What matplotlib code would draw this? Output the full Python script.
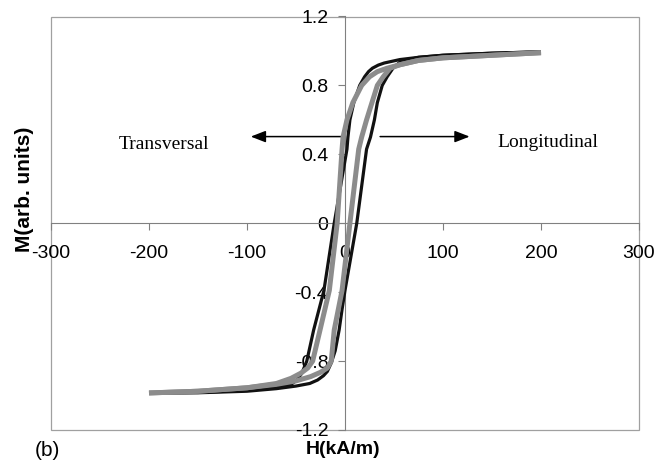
import matplotlib
matplotlib.use("Agg")
import matplotlib.pyplot as plt
from matplotlib.patches import Rectangle

plt.rcParams['axes.unicode_minus'] = False
plt.rcParams['font.family'] = ['Liberation Sans', 'DejaVu Sans']

# black loop, descending branch (left)
h_black_down = [-200, -150, -100, -70, -55, -49, -44, -39, -32, -21.5, -11, 2, 3, 5, 9, 15, 20, 24, 28, 34, 40, 56, 75, 100, 150, 200]
m_black_down = [-0.985, -0.982, -0.97, -0.955, -0.935, -0.91, -0.87, -0.80, -0.62, -0.39, 0.0, 0.43, 0.5, 0.6, 0.7, 0.8, 0.85, 0.88, 0.9, 0.918, 0.93, 0.95, 0.963, 0.975, 0.987, 0.995]

# black loop, ascending branch (right)
h_black_up = [-200, -150, -100, -70, -50, -36, -28, -22, -18, -14, -10, -6, -3, 0, 12, 22, 26, 30, 33, 38, 43, 49, 56, 75, 100, 150, 200]
m_black_up = [-0.985, -0.984, -0.975, -0.96, -0.945, -0.93, -0.91, -0.885, -0.86, -0.81, -0.74, -0.62, -0.5, -0.39, 0.0, 0.43, 0.5, 0.6, 0.7, 0.8, 0.85, 0.9, 0.935, 0.963, 0.975, 0.987, 0.995]

# grey loop, descending branch (left)
h_grey_down = [-200, -150, -100, -70, -55, -45, -38, -33, -25.5, -16, -8, -3, -2, 2, 8, 17, 25, 33, 43, 56, 75, 100, 150, 200]
m_grey_down = [-0.985, -0.975, -0.955, -0.93, -0.9, -0.87, -0.84, -0.8, -0.62, -0.39, 0.0, 0.43, 0.5, 0.6, 0.7, 0.8, 0.85, 0.88, 0.9, 0.92, 0.945, 0.96, 0.975, 0.99]

# grey loop, ascending branch (right)
h_grey_up = [-200, -150, -100, -70, -50, -35, -25, -18, -14, -11, -3, 5, 14, 17, 22, 27.5, 33, 39, 46, 56, 75, 100, 150, 200]
m_grey_up = [-0.985, -0.975, -0.955, -0.935, -0.915, -0.89, -0.865, -0.84, -0.8, -0.62, -0.39, 0.0, 0.43, 0.5, 0.6, 0.7, 0.8, 0.85, 0.9, 0.92, 0.945, 0.96, 0.975, 0.99]

x_ticks = [-300, -200, -100, 0, 100, 200, 300]
y_ticks = [-1.2, -0.8, -0.4, 0, 0.4, 0.8, 1.2]
y_tick_labels = ['-1.2', '-0.8', '-0.4', '0', '0.4', '0.8', '1.2']

fig = plt.figure(figsize=(6.69, 4.62), dpi=100)
ax = fig.add_axes([51 / 669, 32 / 462, 588 / 669, 413.5 / 462])

# curves
ax.plot(h_black_down, m_black_down, color='#111111', lw=2.3, solid_joinstyle='round', solid_capstyle='butt', zorder=3)
ax.plot(h_black_up, m_black_up, color='#111111', lw=2.3, solid_joinstyle='round', solid_capstyle='butt', zorder=3)
ax.plot(h_grey_down, m_grey_down, color='#8c8c8c', lw=3.6, solid_joinstyle='round', solid_capstyle='butt', zorder=4)
ax.plot(h_grey_up, m_grey_up, color='#8c8c8c', lw=3.6, solid_joinstyle='round', solid_capstyle='butt', zorder=4)

ax.set_xlim(-300, 300)
ax.set_ylim(-1.2, 1.2)

# axes through the origin
ax.spines['left'].set_position(('data', 0))
ax.spines['bottom'].set_position(('data', 0))
ax.spines['left'].set_color('#808080')
ax.spines['bottom'].set_color('#808080')
ax.spines['left'].set_linewidth(0.8)
ax.spines['bottom'].set_linewidth(0.8)
ax.spines['top'].set_visible(False)
ax.spines['right'].set_visible(False)
ax.add_patch(Rectangle((0, 0), 1, 1, transform=ax.transAxes, fill=False,
                       edgecolor='#a0a0a0', lw=0.9, zorder=1, clip_on=False))

ax.set_xticks(x_ticks)
ax.set_xticklabels([str(v) for v in x_ticks])
ax.set_yticks(y_ticks)
ax.set_yticklabels(y_tick_labels)
ax.tick_params(axis='x', direction='out', length=5, width=0.8, color='#808080', pad=11, labelsize=14)
ax.tick_params(axis='y', direction='out', length=5, width=0.8, color='#808080', pad=7, labelsize=14)

# arrows and labels
ax.annotate('', xy=(-99, 0.503), xytext=(-1, 0.503),
            arrowprops=dict(arrowstyle='-|>,head_length=0.9,head_width=0.35', color='black', lw=1.1), zorder=2)
ax.annotate('', xy=(130, 0.503), xytext=(33, 0.503),
            arrowprops=dict(arrowstyle='-|>,head_length=0.9,head_width=0.35', color='black', lw=1.1), zorder=2)
ax.text(-185, 0.456, 'Transversal', family='Liberation Serif', fontsize=14, ha='center', va='center')
ax.text(207, 0.468, 'Longitudinal', family='Liberation Serif', fontsize=14, ha='center', va='center')

fig.text(343 / 669, 1 - 450 / 462, 'H(kA/m)', fontsize=14, fontweight='bold', ha='center', va='center')
fig.text(24 / 669, 1 - 189 / 462, 'M(arb. units)', fontsize=15, fontweight='bold', rotation=90,
         ha='center', va='center')
fig.text(35 / 669, 1 - 441 / 462, '(b)', fontsize=15, ha='left', va='top')

fig.savefig('out.png', dpi=100)
